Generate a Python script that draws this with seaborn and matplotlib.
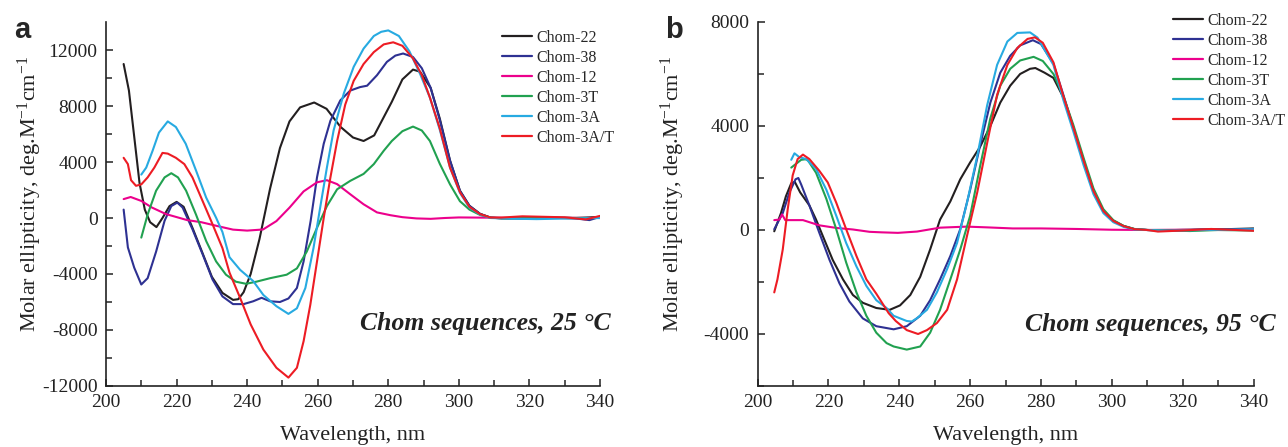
import numpy as np
import pandas as pd
import seaborn as sns
import matplotlib.pyplot as plt

series_names = ['Chom-22', 'Chom-38', 'Chom-12', 'Chom-3T', 'Chom-3A', 'Chom-3A/T']
series_colors = ['#231f20', '#2e3192', '#ec008c', '#21a150', '#27aae1', '#ed1c24']

# ---- panel a : 25 °C ----
a_wl_22 = [205, 206.5, 208, 209.5, 211, 212.5, 214.3, 216, 218, 220, 222, 224.5, 227.5, 230, 233, 236, 237.5,
           239, 241, 243.5, 246.5, 249.3, 252, 255, 259, 262.5, 266.5, 270, 273, 276, 278.5, 281, 284, 287,
           289, 292, 294.6, 297.5, 300.3, 303, 306, 309, 312, 318, 325, 332, 340]
a_cd_22 = [11000, 9100, 5800, 2500, 600, -300, -650, 0, 850, 1150, 800, -700, -2600, -4200, -5350, -5850, -5800,
           -5300, -4000, -1500, 2100, 5000, 6900, 7900, 8250, 7800, 6500, 5750, 5500, 5900, 7100, 8300, 9900, 10600,
           10450, 9300, 7100, 4100, 1950, 870, 300, 30, -30, 0, 30, -20, 80]

a_wl_38 = [205, 206.2, 208, 210, 211.8, 214.2, 216.6, 218.5, 220.2, 221.7, 224.5, 227.4, 230.2, 233, 236, 239,
           241.7, 244.1, 246.5, 249.3, 251.7, 254.1, 256, 258, 259.8, 261.7, 263.6, 266.4, 269.2, 272, 274, 276.8,
           279.6, 282, 284.2, 287, 289.5, 292, 294.6, 297.5, 300.3, 303, 306, 309, 312, 318, 325, 332, 337, 340]
a_cd_38 = [600, -2100, -3550, -4750, -4300, -2400, -200, 850, 1100, 750, -800, -2600, -4400, -5600, -6150, -6150,
           -5950, -5700, -5950, -6000, -5750, -5000, -3100, -200, 2900, 5300, 6950, 8400, 9100, 9350, 9450, 10200,
           11150, 11600, 11750, 11500, 10700, 9300, 7000, 4100, 1950, 870, 290, 20, 0, -40, 20, 0, -150, 80]

a_wl_12 = [205, 207, 210, 213, 217, 220.5, 223, 227, 232, 236, 240, 244.5, 248.3, 252, 256, 259.8, 262.6, 265.5,
           269.2, 273, 276.8, 280.6, 284, 288, 292, 296, 300, 310, 320, 330, 340]
a_cd_12 = [1350, 1500, 1220, 750, 280, 30, -150, -300, -600, -830, -900, -820, -220, 740, 1900, 2550, 2700, 2420,
           1700, 980, 400, 200, 60, -30, -60, 0, 40, 20, 0, 20, 0]

a_wl_3t = [210, 211.8, 214.2, 216.6, 218.5, 220.4, 222.7, 225.5, 228.4, 231.2, 234, 236.8, 239.7, 242.6, 246.5,
           251.2, 254.1, 256.9, 259.8, 262.6, 265.5, 269.2, 273, 275.9, 278.7, 281, 284, 287, 289.5, 291.8, 294.6,
           297.5, 300.3, 303, 306, 309, 314, 320, 330, 340]
a_cd_3t = [-1400, 250, 1950, 2900, 3200, 2900, 1950, 250, -1650, -3100, -4050, -4550, -4700, -4550, -4300,
           -4050, -3600, -2400, -700, 850, 2050, 2650, 3150, 3850, 4800, 5500, 6200, 6530, 6250, 5500, 3870,
           2400, 1200, 600, 220, 20, -30, 0, 10, 0]

a_wl_3a = [210, 211.4, 213.2, 215, 217.5, 219.8, 222.6, 225.5, 228.4, 231.2, 233, 235, 238, 241.7, 244.6, 248.3,
           251.7, 254.1, 256.5, 258.8, 260.7, 262.6, 264.5, 267.4, 270.2, 273, 275.9, 278, 280, 283, 286,
           289, 291.8, 294.6, 297.5, 300.3, 303, 306, 309, 315, 322, 330, 340]
a_cd_3a = [3100, 3600, 4800, 6100, 6900, 6500, 5300, 3400, 1450, 20, -1000, -2800, -3700, -4500, -5500, -6300,
           -6850, -6450, -5000, -2150, 750, 3600, 6250, 8900, 10800, 12100, 13000, 13300, 13400, 13000, 11900,
           10300, 8600, 6300, 3600, 1800, 750, 250, 0, -50, -80, -40, 0]

a_wl_3at = [205, 206.2, 207.1, 208.5, 210, 211.8, 213.7, 216, 217.5, 219.8, 222.2, 224.5, 227.4, 230.2, 233, 235,
            238, 241, 244.6, 248.3, 251.7, 254.1, 256, 257.9, 259.8, 261.7, 263.6, 265.5, 267.8, 270.2, 273,
            275.9, 278.7, 281.4, 284, 287, 289.5, 291.8, 294.6, 297.5, 300.3, 303, 306, 309, 312, 318, 325, 330,
            336, 340]
a_cd_3at = [4300, 3850, 2700, 2300, 2400, 2900, 3600, 4650, 4600, 4300, 3850, 2900, 1200, -450, -2150, -3900,
            -5700, -7600, -9400, -10700, -11400, -10700, -8800, -6200, -3100, 0, 2900, 5500, 8100, 9800, 11000,
            11850, 12400, 12550, 12300, 11400, 10200, 8600, 6400, 3600, 1850, 800, 280, 30, 30, 120, 80, 50,
            -100, 150]

# ---- panel b : 95 °C ----
b_wl_22 = [204.7, 206.6, 208, 209.5, 210.5, 212, 214.6, 216.5, 218.4, 221.2, 224.1, 226.9, 229.7, 233.5, 237.3,
           240.2, 243.1, 245.9, 248.7, 251.5, 254.4, 257.2, 260, 262.8, 265.7, 268.5, 271.3, 274.1, 276.9, 278.4,
           281, 283.5, 286.3, 289.1, 292, 294.8, 297.6, 300.4, 303.3, 306.4, 310, 318, 325, 332, 340]
b_cd_22 = [-50, 650, 1300, 1800, 1850, 1450, 950, 400, -230, -1150, -1900, -2500, -2800, -3000, -3070,
           -2900, -2500, -1800, -750, 400, 1100, 1950, 2600, 3200, 4000, 4900, 5550, 6000, 6200, 6230,
           6050, 5850, 5100, 3950, 2670, 1500, 730, 350, 150, 30, 0, 0, 20, 30, 60]

b_wl_38 = [204.7, 207.1, 209, 210.7, 211.5, 212.3, 214.6, 217.4, 220.3, 223.1, 225.9, 229.7, 233.5, 238.4, 242.1,
           245.9, 248.7, 251.5, 254.4, 257.2, 260, 262.8, 265.7, 268.5, 271.3, 274.1, 277.7, 280, 283.5, 286.3,
           289.1, 292, 294.8, 297.6, 300.4, 303.3, 306.4, 310, 318, 325, 332, 340]
b_cd_38 = [30, 650, 1450, 1950, 2000, 1750, 950, -100, -1150, -2050, -2750, -3400, -3700, -3820, -3700,
           -3300, -2700, -1900, -1000, 30, 1550, 3250, 4900, 6050, 6700, 7100, 7300, 7150, 6400, 5200,
           3950, 2650, 1500, 730, 350, 150, 30, 0, -20, 10, 20, 40]

b_wl_12 = [204.7, 206.1, 206.9, 207.8, 212.8, 217.4, 222.2, 226.9, 231.6, 235, 239.6, 245, 251.5, 259, 265, 272,
           280, 290, 300, 310, 320, 330, 340]
b_cd_12 = [380, 400, 600, 380, 380, 180, 80, 20, -70, -90, -110, -60, 90, 130, 100, 60, 60, 40, 10, 0, 10, 0, 0]

b_wl_3t = [209.5, 210.9, 212.3, 213.5, 214.2, 216.5, 219.4, 222.2, 225, 227.9, 230.7, 233.5, 236.4, 238.4, 242.1,
           245.9, 248.7, 251.5, 254.4, 257.2, 260, 262.8, 265.7, 268.5, 271.3, 274.1, 277.9, 280.5, 283.5, 286.3,
           289.1, 292, 294.8, 297.6, 300.4, 303.3, 306.4, 310, 316, 322, 330, 340]
b_cd_3t = [2400, 2550, 2700, 2720, 2680, 2200, 1200, 30, -1250, -2400, -3300, -3950, -4350, -4480, -4600,
           -4480, -3950, -3070, -1900, -750, 550, 2450, 4300, 5550, 6200, 6520, 6660, 6500, 6000, 5150,
           4050, 2780, 1600, 800, 380, 160, 40, 0, -20, -40, 0, -20]

b_wl_3a = [209.5, 210.4, 211.8, 213.7, 216.5, 219.4, 222.2, 225, 227.9, 230.7, 233.5, 236.4, 238.4, 242.1, 243.5,
           244.9, 247.8, 250.6, 253.5, 256.3, 259.1, 262, 264.8, 267.6, 270.5, 273.3, 276.9, 279, 283.5, 286.3,
           289.1, 292, 294.8, 297.6, 300.4, 303.3, 306.4, 310, 316, 325, 332, 340]
b_cd_3a = [2700, 2950, 2800, 2730, 2350, 1550, 550, -500, -1400, -2150, -2700, -3000, -3300, -3500, -3520,
           -3400, -3070, -2400, -1500, -500, 1050, 2850, 4800, 6350, 7250, 7580, 7600, 7400, 6350, 5000,
           3800, 2500, 1380, 650, 300, 120, 20, 0, -30, 0, 10, 30]

b_wl_3at = [204.7, 205.6, 207.1, 208.5, 209.9, 211.3, 212.8, 214.6, 217.4, 219.8, 222.2, 225, 227.9, 230.7, 233.5,
            237, 239, 242.1, 245.3, 247.8, 250.6, 253.5, 256.3, 259.1, 262, 264.8, 267.6, 270.5, 273.3, 276.2,
            278.3, 280.5, 283.5, 286.3, 289.1, 292, 294.8, 297.6, 300.4, 303.3, 306.4, 310, 313, 320, 328, 335,
            340]
b_cd_3at = [-2400, -1900, -750, 800, 2100, 2730, 2900, 2730, 2280, 1830, 1050, 30, -1000, -1900, -2450,
            -3200, -3500, -3850, -4000, -3850, -3580, -3070, -1900, -230, 1450, 3350, 5200, 6350, 7000, 7350,
            7410, 7200, 6450, 5150, 3950, 2670, 1500, 730, 350, 150, 30, 0, -60, -20, 40, 0, -30]

a_series = [(a_wl_22, a_cd_22), (a_wl_38, a_cd_38), (a_wl_12, a_cd_12),
            (a_wl_3t, a_cd_3t), (a_wl_3a, a_cd_3a), (a_wl_3at, a_cd_3at)]
b_series = [(b_wl_22, b_cd_22), (b_wl_38, b_cd_38), (b_wl_12, b_cd_12),
            (b_wl_3t, b_cd_3t), (b_wl_3a, b_cd_3a), (b_wl_3at, b_cd_3at)]


def to_frame(series):
    rows = []
    for name, (wl, cd) in zip(series_names, series):
        rows.append(pd.DataFrame({'wl': wl, 'cd': cd, 'seq': name}))
    return pd.concat(rows, ignore_index=True)


sns.set_style('ticks')
plt.rcParams['font.family'] = ['Liberation Serif', 'DejaVu Serif']
plt.rcParams['mathtext.fontset'] = 'custom'
plt.rcParams['mathtext.rm'] = 'Liberation Serif'
plt.rcParams['mathtext.it'] = 'Liberation Serif:italic'
plt.rcParams['axes.unicode_minus'] = False

fig = plt.figure(figsize=(12.88, 4.47), dpi=100)
ax_a = fig.add_axes([106 / 1288, 61 / 447, 494 / 1288, 364 / 447])
ax_b = fig.add_axes([757.6 / 1288, 61 / 447, 496 / 1288, 364 / 447])

palette = dict(zip(series_names, series_colors))
ylabel = 'Molar ellipticity, deg.M$^{-1}$cm$^{-1}$'

setup = [
    (ax_a, a_series, (-12000, 14000), [-12000, -8000, -4000, 0, 4000, 8000, 12000], 'Chom sequences, 25 °C',
     (1.022, 0.173), -0.155, (502, 30)),
    (ax_b, b_series, (-6000, 8000), [-4000, 0, 4000, 8000], 'Chom sequences, 95 °C',
     (1.045, 0.168), -0.17, (1173, 13)),
]

for ax, series, ylim, yticks, note, note_xy, ylab_x, leg_xy in setup:
    df = to_frame(series)
    sns.lineplot(data=df, x='wl', y='cd', hue='seq', hue_order=series_names, palette=palette,
                 estimator=None, sort=False, lw=1.5, ax=ax, legend=False)
    ax.set_xlim(200, 340)
    ax.set_ylim(*ylim)
    ax.set_xticks(range(200, 341, 20))
    ax.set_xticks(range(210, 341, 20), minor=True)
    ax.set_yticks(yticks)
    ax.set_yticks([v + 2000 for v in yticks if v + 2000 < ylim[1]] + [ylim[0]], minor=True)
    ax.tick_params(which='major', direction='in', length=5, width=1.1, labelsize=14, pad=6, colors='#222222')
    ax.tick_params(which='minor', direction='in', length=4, width=1.1)
    for s in ['top', 'right']:
        ax.spines[s].set_visible(False)
    for s in ['left', 'bottom']:
        ax.spines[s].set_linewidth(1.2)
        ax.spines[s].set_color('#222222')

    ax.set_xlabel('Wavelength, nm', fontsize=16, color='#222222')
    ax.set_ylabel(ylabel, fontsize=16, color='#222222')
    ax.xaxis.set_label_coords(0.5, -0.135)
    ax.xaxis.label.set_va('center')
    ax.yaxis.set_label_coords(ylab_x, 0.527)
    ax.yaxis.label.set_va('center')

    ax.text(note_xy[0], note_xy[1], note, transform=ax.transAxes, ha='right', va='center',
            fontsize=18.5, fontweight='bold', fontstyle='italic', color='#222222', clip_on=False)

    handles = [plt.Line2D([], [], color=c, lw=1.6) for c in series_colors]
    fig.legend(handles, series_names, loc='upper left',
               bbox_to_anchor=(leg_xy[0] / 1288, 1 - leg_xy[1] / 447), frameon=False,
               fontsize=11.5, handlelength=1.9, handletextpad=0.25, labelspacing=0.25,
               borderpad=0, borderaxespad=0)

fig.text(14 / 1288, 1 - 38 / 447, 'a', fontsize=21, fontweight='bold', family='Liberation Sans',
         ha='left', va='baseline')
fig.text(665 / 1288, 1 - 38 / 447, 'b', fontsize=21, fontweight='bold', family='Liberation Sans',
         ha='left', va='baseline')

fig.savefig('out.png', dpi=100)
